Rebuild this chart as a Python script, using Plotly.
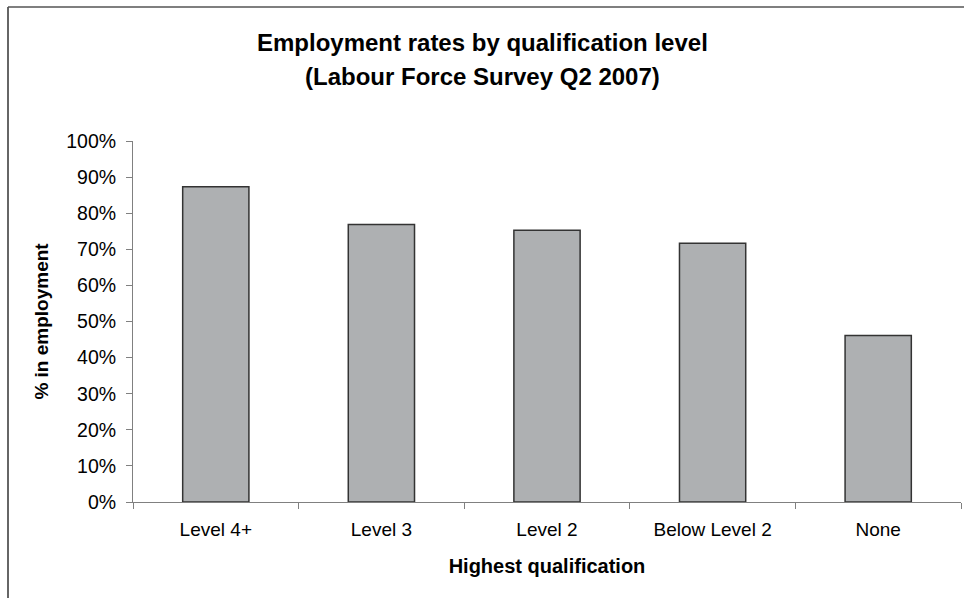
import plotly.graph_objects as go

categories = ["Level 4+", "Level 3", "Level 2", "Below Level 2", "None"]
employment_pct = [87.3, 76.9, 75.3, 71.7, 46.1]
y_ticks = [0, 10, 20, 30, 40, 50, 60, 70, 80, 90, 100]
y_tick_labels = [f"{v}%" for v in y_ticks]

W, H = 964, 598
L, R, T, B = 133, 3, 141, 96
pw, ph = W - L - R, H - T - B

def px(x):
    return (x - L) / pw

def py(y):
    return (H - B - y) / ph

fig = go.Figure(go.Bar(
    x=categories, y=employment_pct, width=0.4,
    marker=dict(color="#AEB0B2", line=dict(color="#333333", width=1.5)),
))

font = "Liberation Sans, Arial, sans-serif"
fig.update_layout(
    width=W, height=H,
    margin=dict(l=L, r=R, t=T, b=B),
    paper_bgcolor="white", plot_bgcolor="white",
    font=dict(family=font, size=19, color="black"),
    showlegend=False,
    bargap=0.6,
    xaxis=dict(
        showline=True, linecolor="#808080", linewidth=1,
        ticks="outside", tickson="boundaries", ticklen=6, tickcolor="#808080",
        tickfont=dict(size=19), ticklabelstandoff=10,
        title=dict(text="<b>Highest qualification</b>", font=dict(size=20), standoff=20),
    ),
    yaxis=dict(
        range=[0, 100], tickmode="array", tickvals=y_ticks, ticktext=y_tick_labels,
        showline=True, linecolor="#808080", linewidth=1,
        ticks="outside", ticklen=6, tickcolor="#808080",
        showgrid=False, zeroline=False,
        tickfont=dict(size=19.5), ticklabelstandoff=6,
        title=dict(text="<b>% in employment</b>", font=dict(size=19), standoff=12),
    ),
    annotations=[
        dict(text="<b>Employment rates by qualification level</b>", xref="paper", yref="paper",
             x=px(482), y=py(43), showarrow=False, xanchor="center", yanchor="middle",
             font=dict(size=24)),
        dict(text="<b>(Labour Force Survey Q2 2007)</b>", xref="paper", yref="paper",
             x=px(482), y=py(77), showarrow=False, xanchor="center", yanchor="middle",
             font=dict(size=24)),
    ],
    shapes=[
        dict(type="line", xref="paper", yref="paper", x0=px(8), x1=px(8), y0=py(7), y1=py(600),
             line=dict(color="#333333", width=1.5)),
        dict(type="line", xref="paper", yref="paper", x0=px(8), x1=px(966), y0=py(7), y1=py(7),
             line=dict(color="#555555", width=1.5)),
    ],
)

fig.write_html("out.html")
